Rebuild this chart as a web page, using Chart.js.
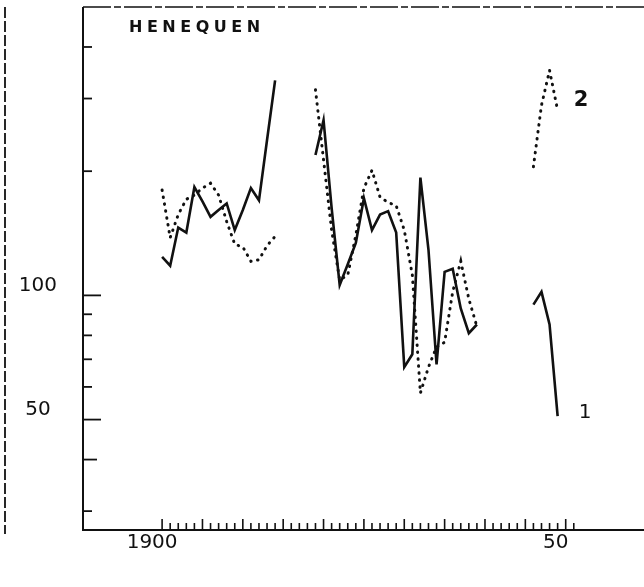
<!DOCTYPE html>
<html><head><meta charset="utf-8">
<script src="https://cdn.jsdelivr.net/npm/chart.js@4.4.1/dist/chart.umd.min.js"></script>
<style>html,body{margin:0;padding:0;background:#fff}</style>
</head><body>
<canvas id="c" width="644" height="587"></canvas>
<script>
// ---- data ----
const chartTitle = 'HENEQUEN';
const years1 = [1900,1901,1902,1903,1904,1905,1906,1907,1908,1909,1910,1911,1912,1913,1914];
const solid1 = [124,118,146,142,183,169,155,161,167,144,161,182,170,238,332];
const dotted1 = [180,138,157,171,175,182,187,175,151,133,131,121,122,132,139];
const years2 = [1919,1920,1921,1922,1923,1924,1925,1926,1927,1928,1929,1930,1931,1932,1933,1934,1935,1936,1937,1938,1939];
const solid2 = [219,266,163,106,119,134,172,144,157,160,142,67,72,193,129,68,114,116,93,81,85];
const dotted2 = [315,213,144,109,112,140,182,201,173,168,165,144,112,58,67,75,77,102,121,98,84];
const years3 = [1946,1947,1948,1949];
const solid3 = [95,102,85,51];
const dotted3 = [205,289,351,281];
const xLabelYears = [1900,1950];
const xLabelText = ['1900','50'];
const yLabelValues = [100,50];
const yTickMarks = [30,40,50,60,70,80,90,100,200,300,400];
const xTickFirst = 1900, xTickLast = 1951;
const seriesNames = ['1','2'];

function seg(ys, vs){ return ys.map((x,i)=>({x:x, y:vs[i]})); }
function joinSegs(parts){
  const out = [];
  parts.forEach((p,i)=>{ if(i>0) out.push({x:(out[out.length-1].x + p[0].x)/2, y:null}); out.push(...p); });
  return out;
}
const line1 = joinSegs([seg(years1,solid1), seg(years2,solid2), seg(years3,solid3)]);
const line2 = joinSegs([seg(years1,dotted1), seg(years2,dotted2), seg(years3,dotted3)]);

const ink = '#111';
const deco = {
  id:'deco',
  afterDraw(chart){
    const {ctx, chartArea:a, scales:{x,y}} = chart;
    ctx.save();
    ctx.strokeStyle = ink; ctx.fillStyle = ink;
    ctx.lineWidth = 2;
    ctx.beginPath(); ctx.moveTo(a.left, a.top); ctx.lineTo(a.left, a.bottom); ctx.lineTo(a.right, a.bottom); ctx.stroke();
    ctx.lineWidth = 1.6; ctx.setLineDash([28,3,7,3]);
    ctx.beginPath(); ctx.moveTo(a.left, a.top); ctx.lineTo(a.right, a.top); ctx.stroke();
    ctx.setLineDash([11,3]); ctx.lineWidth = 1.8;
    ctx.beginPath(); ctx.moveTo(5, a.top); ctx.lineTo(5, a.bottom + 4); ctx.stroke();
    ctx.setLineDash([]);
    ctx.lineWidth = 1.8;
    yTickMarks.forEach(v=>{
      const py = y.getPixelForValue(v);
      const len = (v===50||v===100) ? 18 : (v===40 ? 14 : 9);
      ctx.beginPath(); ctx.moveTo(a.left, py); ctx.lineTo(a.left+len, py); ctx.stroke();
    });
    ctx.lineWidth = 1.6;
    for(let yr = xTickFirst; yr <= xTickLast; yr++){
      const px = x.getPixelForValue(yr);
      const len = yr % 5 === 0 ? 11 : 7;
      ctx.beginPath(); ctx.moveTo(px, a.bottom); ctx.lineTo(px, a.bottom - len); ctx.stroke();
    }
    ctx.font = 'bold 16px "DejaVu Sans"';
    ctx.letterSpacing = '4.5px';
    ctx.textBaseline = 'middle'; ctx.textAlign = 'left';
    ctx.fillText(chartTitle, a.left + 46, a.top + 21);
    ctx.letterSpacing = '0px';
    ctx.textAlign = 'center';
    ctx.font = 'bold 21px "DejaVu Sans"';
    ctx.fillText(seriesNames[1], x.getPixelForValue(1951.9), y.getPixelForValue(297));
    ctx.font = '20px "DejaVu Sans"';
    ctx.fillText(seriesNames[0], x.getPixelForValue(1952.4), y.getPixelForValue(52));
    ctx.restore();
  }
};

new Chart(document.getElementById('c'), {
  type:'line',
  data:{ datasets:[
    { label:'1', data:line1, borderColor:ink, borderWidth:2.6, pointRadius:0, tension:0, spanGaps:false, borderJoinStyle:'miter' },
    { label:'2', data:line2, borderColor:ink, borderWidth:3, borderDash:[0.5,6.5], borderCapStyle:'round', pointRadius:0, tension:0, spanGaps:false }
  ]},
  options:{
    responsive:false, animation:false, devicePixelRatio:1,
    layout:{ padding:{ left:0, right:0, top:7, bottom:0 } },
    plugins:{ legend:{display:false}, tooltip:{enabled:false} },
    scales:{
      x:{ type:'linear', min:1890.2, max:1959.7,
        grid:{ display:false, drawTicks:false }, border:{ display:false },
        afterBuildTicks:s=>{ s.ticks = xLabelYears.map(v=>({value:v})); },
        afterFit:s=>{ s.height = 57; s.paddingLeft = 0; s.paddingRight = 0; },
        ticks:{ callback:v=>xLabelText[xLabelYears.indexOf(v)], font:{family:'DejaVu Sans', size:20}, color:ink, padding:1, labelOffset:-10, maxRotation:0, autoSkip:false }
      },
      y:{ type:'logarithmic', min:27, max:500,
        grid:{ display:false, drawTicks:false }, border:{ display:false },
        afterBuildTicks:s=>{ s.ticks = yLabelValues.map(v=>({value:v})); },
        afterFit:s=>{ s.width = 83; s.paddingTop = 0; s.paddingBottom = 0; },
        ticks:{ callback:v=>String(v), font:{family:'DejaVu Sans', size:20}, color:ink, padding:26, crossAlign:'center', labelOffset:-10, autoSkip:false }
      }
    }
  },
  plugins:[deco]
});
</script>
</body></html>
